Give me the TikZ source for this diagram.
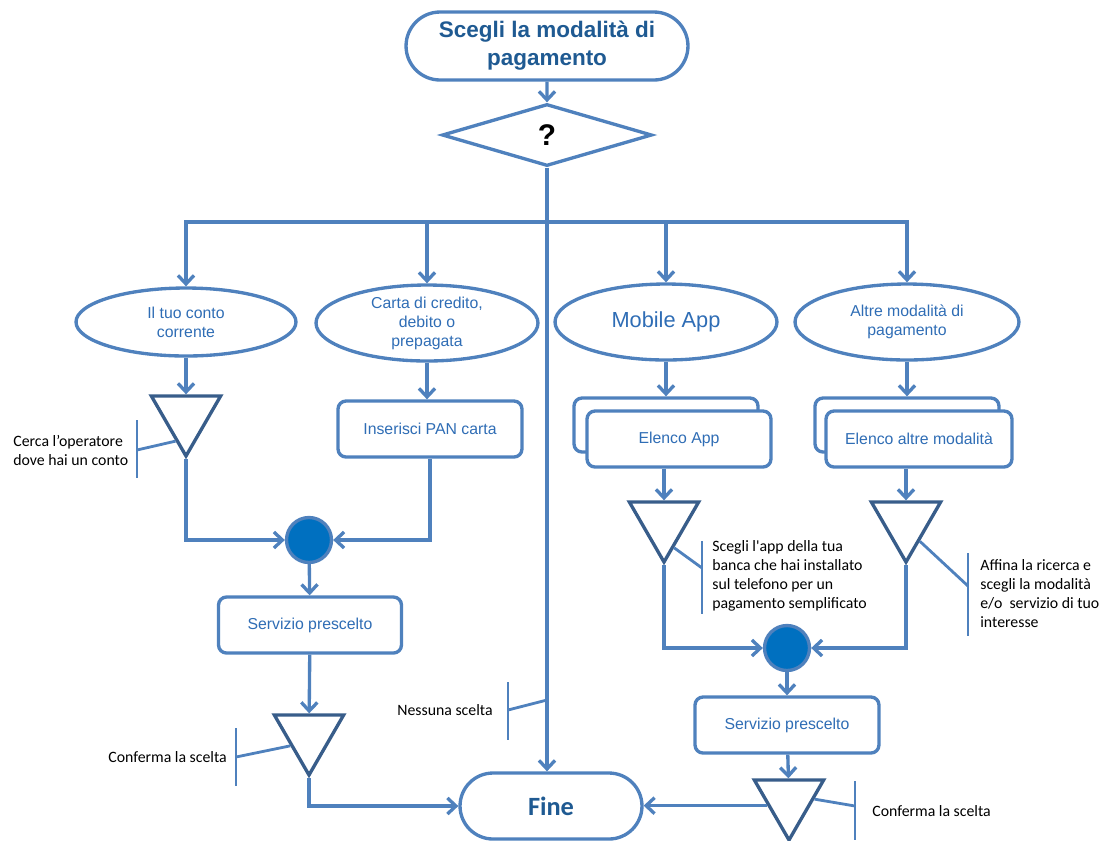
\documentclass[tikz,border=0pt]{standalone}
\usepackage{fontspec}
\setmainfont{Liberation Sans}
\newfontfamily\notefont{Carlito}
\usetikzlibrary{calc,arrows.meta,shapes.geometric,shapes.misc}
\definecolor{lineblue}{HTML}{4F81BD}
\definecolor{txtblue}{HTML}{2F6DB5}
\definecolor{darkblue}{HTML}{1F5A92}
\definecolor{navy}{HTML}{385D8A}
\definecolor{dotblue}{HTML}{0070C0}
\tikzset{%
	line/.style={draw=lineblue, line width=1.9pt},
	arr/.style={line, -{Straight Barb[length=1.7mm,width=3.2mm]}},
	note/.style={draw=lineblue, line width=1.6pt}
}

\begin{document}
\begin{tikzpicture}[x=0.02cm, y=-0.02cm,
	term/.style={rounded rectangle, line, fill=white, inner sep=0pt, align=center},
	choice/.style={diamond, line, fill=white, inner sep=0pt, minimum width=4.2cm, minimum height=1.24cm},
	opt/.style={ellipse, line, inner sep=0pt, text=txtblue, align=center, font=\fontsize{9}{10.8}\selectfont},
	act/.style={rectangle, rounded corners=0.16cm, line, fill=white, minimum width=3.68cm, minimum height=1.12cm, text=txtblue, font=\fontsize{9}{10.8}\selectfont},
	tri/.style={regular polygon, regular polygon sides=3, shape border rotate=180, draw=navy, line width=1.9pt, fill=white, minimum size=1.6cm, inner sep=0pt},
	junc/.style={circle, draw=lineblue, line width=1.9pt, fill=dotblue, minimum size=0.9cm, inner sep=0pt},
	txt/.style={anchor=west, align=left, inner sep=0pt, font=\notefont\fontsize{9}{10.8}\selectfont}]
	\useasboundingbox (0,0) rectangle (1102,840);
	% start and decision
	\node [term, minimum width=5.64cm, minimum height=1.36cm, text=darkblue, font=\bfseries\fontsize{12.8}{15.9}\selectfont] (start) at (547,46) {Scegli la modalità di\\pagamento};
	\node [choice, font=\bfseries\fontsize{17}{18}\selectfont] (dec) at (547,135) {?};
	\coordinate (split) at (547,222);
	% the four options
	\node [opt, minimum width=4.4cm, minimum height=1.36cm] (conto) at (186,322) {Il tuo conto\\corrente};
	\node [opt, minimum width=4.44cm, minimum height=1.52cm] (carta) at (427,323) {Carta di credito,\\debito o\\prepagata};
	\node [opt, minimum width=4.44cm, minimum height=1.52cm, font=\fontsize{12.4}{14}\selectfont] (mobile) at (666,322) {Mobile App};
	\node [opt, minimum width=4.48cm, minimum height=1.52cm] (altre) at (907,322) {Altre modalità di\\pagamento};
	% left branch
	\node [tri] (t1) at (186,416) {};
	\node [act] (pan) at (430,429) {Inserisci PAN carta};
	\node [junc] (j1) at (309,540) {};
	\node [act, minimum width=3.66cm] (serv1) at (310,625) {Servizio prescelto};
	\node [tri] (t2) at (309,735) {};
	% right branch
	\node [act, minimum height=1.08cm] (appB) at (666,425) {};
	\node [act] (app) at (679,439) {Elenco App};
	\node [act, minimum height=1.08cm] (altB) at (907,425) {};
	\node [act, minimum width=3.72cm] (alt) at (919,439) {Elenco altre modalità};
	\node [tri] (t3) at (664,522) {};
	\node [tri] (t4) at (906,522) {};
	\node [junc] (j2) at (787,648) {};
	\node [act, minimum width=3.68cm] (serv2) at (787,725) {Servizio prescelto};
	\node [tri] (t5) at (789,800) {};
	% end
	\node [term, minimum width=3.64cm, minimum height=1.32cm, text=darkblue, font=\notefont\bfseries\fontsize{15}{18}\selectfont] (fine) at (551,806) {Fine};

	\draw [arr] (start) -- (dec);
	\draw [arr] (dec.south) -- (dec.south |- fine.north);
	\draw [arr] (split) -| (conto);
	\draw [arr] (split) -| (carta);
	\draw [arr] (split) -| (mobile);
	\draw [arr] (split) -| (altre);
	\draw [arr] (conto) -- (t1);
	\draw [arr] (carta) -- (carta |- pan.north);
	\draw [arr] (t1.corner 1) |- (j1);
	\draw [arr] (pan.south) |- (j1);
	\draw [arr] (j1) -- (serv1);
	\draw [arr] (serv1) -- (t2);
	\draw [arr] (t2.corner 1) |- (fine);
	\draw [arr] (mobile) -- (appB);
	\draw [arr] (altre) -- (altB);
	\draw [arr] (t3 |- app.south) -- (t3);
	\draw [arr] (t4 |- alt.south) -- (t4);
	\draw [arr] (t3.corner 1) |- (j2);
	\draw [arr] (t4.corner 1) |- (j2);
	\draw [arr] (j2) -- (serv2);
	\draw [arr] (serv2) -- (t5);
	\coordinate (t5l) at ($(t5.corner 3)!0.42!(t5.corner 1)$);
	\draw [arr] (t5l) -- (t5l -| fine.east);

	% notes
	\node [txt] (n1) at (13,450) {Cerca l’operatore\\dove hai un conto};
	\draw [note] (137,420) -- (137,478);
	\draw [note] (137,450) -- ($(t1.corner 3)!0.72!(t1.corner 1)$);
	\node [txt] (n2) at (108,757) {Conferma la scelta};
	\draw [note] (236,728) -- (236,786);
	\draw [note] (236,757) -- ($(t2.corner 3)!0.5!(t2.corner 1)$);
	\node [txt] (n3) at (397,710) {Nessuna scelta};
	\coordinate (nsc) at (547,700);
	\draw [note] (508,682) -- (508,740);
	\draw [note] (508,710) -- (nsc);
	\node [txt] (n4) at (712,576) {Scegli l'app della tua\\banca che hai installato\\sul telefono per un\\pagamento semplificato};
	\draw [note] (702,541) -- (702,614);
	\draw [note] (702,568) -- ($(t3.corner 2)!0.73!(t3.corner 1)$);
	\node [txt] (n5) at (980,594) {Affina la ricerca e\\scegli la modalità\\e/o~ servizio di tuo\\interesse};
	\draw [note] (968,553) -- (968,636);
	\draw [note] (968,586) -- ($(t4.corner 2)!0.63!(t4.corner 1)$);
	\node [txt] (n6) at (872,811) {Conferma la scelta};
	\draw [note] (855,781) -- (855,840);
	\draw [note] (855,806) -- ($(t5.corner 2)!0.32!(t5.corner 1)$);
\end{tikzpicture}
\end{document}
